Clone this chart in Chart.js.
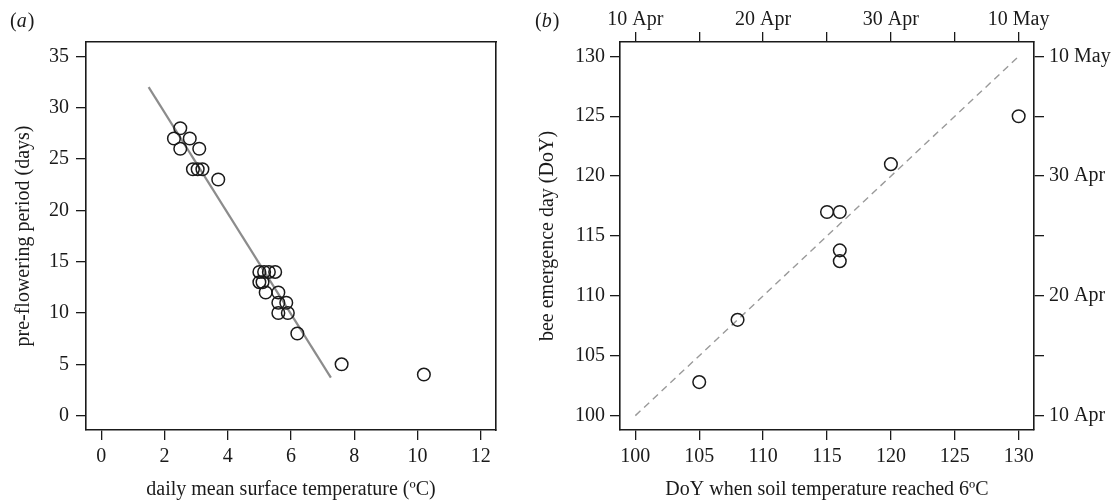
<!DOCTYPE html>
<html><head><meta charset="utf-8">
<script src="https://cdn.jsdelivr.net/npm/chart.js@4"></script>
<style>
html,body{margin:0;padding:0;background:#fff;width:1118px;height:502px;overflow:hidden;}
#ca{position:absolute;left:0;top:0;}
#cb{position:absolute;left:530px;top:0;}
</style></head><body>
<canvas id="ca" width="530" height="502"></canvas>
<canvas id="cb" width="588" height="502"></canvas>
<script>
// ---- panel (a) data ----
const tempA = [2.5, 2.3, 2.8, 2.5, 3.1, 2.9, 3.05, 3.2, 3.7, 5.0, 5.15, 5.3, 5.5, 5.0, 5.1, 5.2, 5.6, 5.6, 5.85, 5.6, 5.9, 6.2, 7.6, 10.2];
const daysA = [28, 27, 27, 26, 26, 24, 24, 24, 23, 14, 14, 14, 14, 13, 13, 12, 12, 11, 11, 10, 10, 8, 5, 4];
const fitXA = [1.5, 7.26];
const fitYA = [32, 3.7];
const xTicksA = [0, 2, 4, 6, 8, 10, 12];
const yTicksA = [0, 5, 10, 15, 20, 25, 30, 35];

// ---- panel (b) data ----
const soilB = [105, 108, 115, 116, 116, 116, 120, 130];
const beeB = [102.8, 108, 117, 117, 113.8, 112.9, 121, 125];
const refXB = [100, 130];
const refYB = [100, 130];
const doyTicksB = [100, 105, 110, 115, 120, 125, 130];
const dateTickValsB = [100, 105, 110, 115, 120, 125, 130];
const dateTickLabelsB = ['10 Apr', '', '20 Apr', '', '30 Apr', '', '10 May'];

const FONT = "'Liberation Serif', 'Times New Roman', serif";
Chart.defaults.font.family = FONT;
Chart.defaults.font.size = 20;
Chart.defaults.color = '#1a1a1a';

function pts(xs, ys) { return xs.map((x, i) => ({x: x, y: ys[i]})); }
function fixTicks(vals) { return function (scale) { scale.ticks = vals.map(v => ({value: v})); }; }
function fixW(w) { return function (scale) { scale.width = w; }; }
function fixH(h) { return function (scale) { scale.height = h; }; }

const gridOn = {display: true, drawOnChartArea: false, drawTicks: true, tickLength: 10, color: '#1a1a1a', lineWidth: 1.3};
const border = {display: true, color: '#1a1a1a', width: 1.6};

function rlim(a, b) { const d = (b - a) * 0.04; return [a - d, b + d]; }

const panelLabel = {
  id: 'panelLabel',
  afterDraw(chart, args, opts) {
    const ctx = chart.ctx;
    ctx.save();
    ctx.fillStyle = '#1a1a1a';
    ctx.textBaseline = 'middle';
    ctx.textAlign = 'left';
    let x = opts.x;
    const y = opts.y;
    ctx.font = '20px ' + FONT;
    ctx.fillText('(', x, y); x += ctx.measureText('(').width;
    ctx.font = 'italic 20px ' + FONT;
    ctx.fillText(opts.letter, x, y); x += ctx.measureText(opts.letter).width + 1;
    ctx.font = '20px ' + FONT;
    ctx.fillText(')', x, y);
    ctx.restore();
  }
};

const xlA = rlim(0, 12), ylA = rlim(0, 35);
new Chart(document.getElementById('ca'), {
  type: 'scatter',
  data: {
    datasets: [
      {data: pts(fitXA, fitYA), showLine: true, borderColor: '#8c8c8c', borderWidth: 2.2, pointRadius: 0, order: 2},
      {data: pts(tempA, daysA), pointRadius: 6.3, pointHoverRadius: 6.3, borderColor: '#1a1a1a', backgroundColor: 'rgba(0,0,0,0)', borderWidth: 1.5, order: 1}
    ]
  },
  options: {
    responsive: false, animation: false, devicePixelRatio: 1,
    layout: {padding: 0},
    plugins: {legend: {display: false}, tooltip: {enabled: false}, panelLabel: {x: 10, y: 22, letter: 'a'}},
    scales: {
      x: {type: 'linear', position: 'bottom', min: xlA[0], max: xlA[1], afterBuildTicks: fixTicks(xTicksA), afterFit: fixH(72),
          grid: gridOn, border: border, ticks: {padding: 5, maxRotation: 0, callback: v => String(v)},
          title: {display: true, text: 'daily mean surface temperature (ºC)', padding: {top: 0, bottom: 0}}},
      y: {type: 'linear', position: 'left', min: ylA[0], max: ylA[1], afterBuildTicks: fixTicks(yTicksA), afterFit: fixW(86),
          grid: gridOn, border: border, ticks: {padding: 7, callback: v => String(v)},
          title: {display: true, text: 'pre-flowering period (days)', padding: {top: 12, bottom: 0}}},
      x2: {type: 'linear', axis: 'x', position: 'top', min: xlA[0], max: xlA[1], afterFit: fixH(42),
           grid: {display: false, drawTicks: false}, border: border, ticks: {display: false}},
      y2: {type: 'linear', axis: 'y', position: 'right', min: ylA[0], max: ylA[1], afterFit: fixW(34),
           grid: {display: false, drawTicks: false}, border: border, ticks: {display: false}}
    }
  },
  plugins: [panelLabel]
});

const xlB = rlim(100, 130), ylB = rlim(100, 130);
new Chart(document.getElementById('cb'), {
  type: 'scatter',
  data: {
    datasets: [
      {data: pts(refXB, refYB), showLine: true, borderColor: '#9a9a9a', borderWidth: 1.4, borderDash: [7, 5], pointRadius: 0, order: 2},
      {data: pts(soilB, beeB), pointRadius: 6.3, pointHoverRadius: 6.3, borderColor: '#1a1a1a', backgroundColor: 'rgba(0,0,0,0)', borderWidth: 1.5, order: 1}
    ]
  },
  options: {
    responsive: false, animation: false, devicePixelRatio: 1,
    layout: {padding: 0},
    plugins: {legend: {display: false}, tooltip: {enabled: false}, panelLabel: {x: 5, y: 22, letter: 'b'}},
    scales: {
      x: {type: 'linear', position: 'bottom', min: xlB[0], max: xlB[1], afterBuildTicks: fixTicks(doyTicksB), afterFit: fixH(72),
          grid: gridOn, border: border, ticks: {padding: 5, maxRotation: 0, callback: v => String(v)},
          title: {display: true, text: 'DoY when soil temperature reached 6ºC', padding: {top: 0, bottom: 0}}},
      y: {type: 'linear', position: 'left', min: ylB[0], max: ylB[1], afterBuildTicks: fixTicks(doyTicksB), afterFit: fixW(90),
          grid: gridOn, border: border, ticks: {padding: 5, callback: v => String(v)},
          title: {display: true, text: 'bee emergence day (DoY)', padding: {top: 6, bottom: 0}}},
      x2: {type: 'linear', axis: 'x', position: 'top', min: xlB[0], max: xlB[1], afterBuildTicks: fixTicks(dateTickValsB), afterFit: fixH(42),
           grid: gridOn, border: border,
           ticks: {padding: 0, maxRotation: 0, autoSkip: false, callback: function (v) { const i = dateTickValsB.indexOf(v); return i >= 0 ? dateTickLabelsB[i] : ''; }}},
      y2: {type: 'linear', axis: 'y', position: 'right', min: ylB[0], max: ylB[1], afterBuildTicks: fixTicks(dateTickValsB), afterFit: fixW(84),
           grid: gridOn, border: border,
           ticks: {padding: 5, autoSkip: false, callback: function (v) { const i = dateTickValsB.indexOf(v); return i >= 0 ? dateTickLabelsB[i] : ''; }}}
    }
  },
  plugins: [panelLabel]
});
</script>
</body></html>
